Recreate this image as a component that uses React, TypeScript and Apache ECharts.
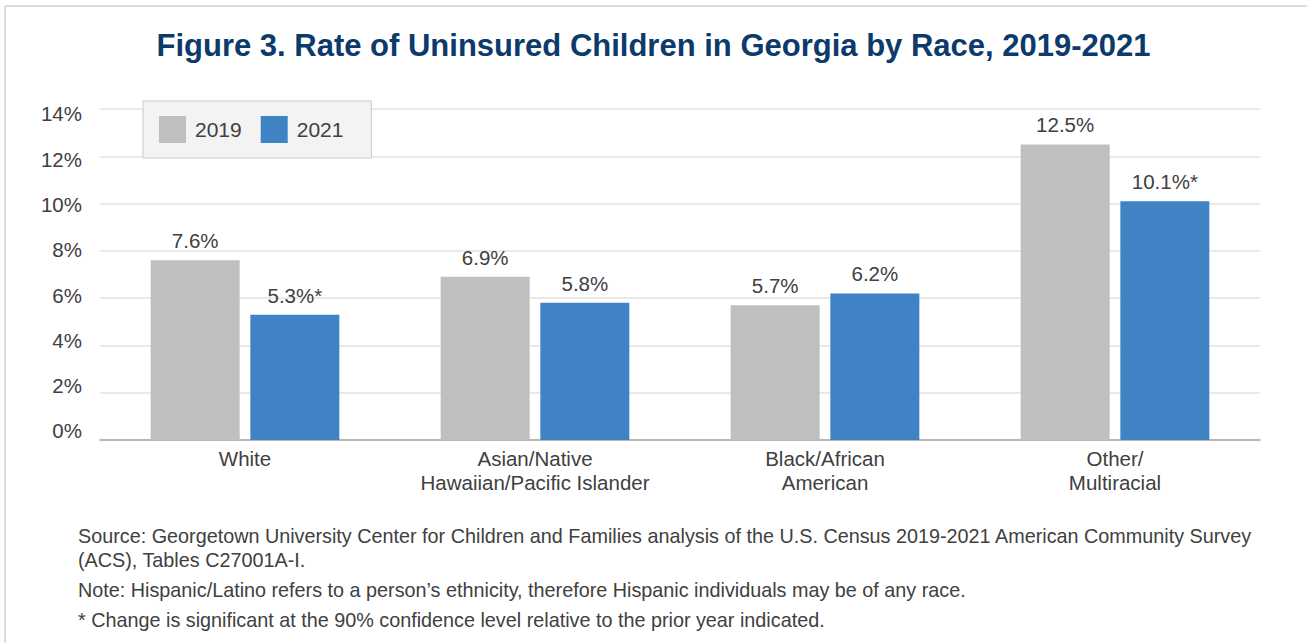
import React, { useEffect, useRef } from "react";
import * as echarts from "echarts";

const categories = [
  "White",
  "Asian/Native\nHawaiian/Pacific Islander",
  "Black/African\nAmerican",
  "Other/\nMultiracial",
];
const values2019 = [7.6, 6.9, 5.7, 12.5];
const values2021 = [5.3, 5.8, 6.2, 10.1];
// Changes significant at the 90% level get an asterisk
const significant2021 = [true, false, false, true];
const yTicks = [0, 2, 4, 6, 8, 10, 12, 14];

const titleText = "Figure 3. Rate of Uninsured Children in Georgia by Race, 2019-2021";
const notes = [
  "Source: Georgetown University Center for Children and Families analysis of the U.S. Census 2019-2021 American Community Survey",
  "(ACS), Tables C27001A-I.",
  "Note: Hispanic/Latino refers to a person\u2019s ethnicity, therefore Hispanic individuals may be of any race.",
  "* Change is significant at the 90% confidence level relative to the prior year indicated.",
];
const noteY = [537, 561, 591, 621];

const FONT = "'Liberation Sans', Arial, Helvetica, sans-serif";
const TEXT = "#404040";

export default function App() {
  const ref = useRef<HTMLDivElement>(null);

  useEffect(() => {
    if (!ref.current) return;
    const chart = echarts.init(ref.current, undefined, { renderer: "svg" });
    chart.setOption({
      animation: false,
      backgroundColor: "#ffffff",
      textStyle: { fontFamily: FONT },
      title: {
        text: titleText,
        left: "center",
        top: 25,
        textStyle: {
          fontFamily: FONT,
          fontSize: 31,
          fontWeight: "bold",
          color: "#0c3a6b",
        },
      },
      legend: {
        left: 143,
        top: 101,
        orient: "horizontal",
        icon: "rect",
        itemWidth: 27,
        itemHeight: 27,
        itemGap: 19,
        padding: [15, 28, 15, 16],
        backgroundColor: "#f3f3f3",
        borderColor: "#c9c9c9",
        borderWidth: 1,
        textStyle: { fontFamily: FONT, fontSize: 21, color: TEXT, padding: [0, 0, 0, 4] },
        data: ["2019", "2021"],
      },
      grid: { left: 100, right: 47, top: 109, bottom: 203, containLabel: false },
      xAxis: {
        type: "category",
        data: categories,
        axisTick: { show: false },
        axisLine: { lineStyle: { color: "#a6a6a6", width: 1.5 } },
        axisLabel: {
          fontFamily: FONT,
          fontSize: 20.5,
          color: TEXT,
          margin: 6,
          lineHeight: 24,
          interval: 0,
        },
      },
      yAxis: [
        {
          // value scale for the bars and gridlines
          type: "value",
          min: 0,
          max: yTicks[yTicks.length - 1],
          interval: 2,
          axisLine: { show: false },
          axisTick: { show: false },
          axisLabel: { show: false },
          splitLine: { lineStyle: { color: "#e2e2e2", width: 1.5 } },
        },
        {
          // tick labels, set slightly tighter than the gridlines
          type: "value",
          position: "left",
          min: -0.4,
          max: 14.22,
          axisLine: { show: false },
          axisTick: { show: false },
          splitLine: { show: false },
          axisLabel: {
            customValues: yTicks,
            fontFamily: FONT,
            fontSize: 20.5,
            color: TEXT,
            margin: 18,
            formatter: (v: number) => `${v}%`,
          },
        },
      ],
      series: [
        {
          name: "2019",
          type: "bar",
          yAxisIndex: 0,
          data: values2019,
          barWidth: 89,
          barGap: "12%",
          itemStyle: { color: "#bfbfbf" },
          label: {
            show: true,
            position: "top",
            distance: 9,
            fontFamily: FONT,
            fontSize: 20.5,
            color: TEXT,
            formatter: (p: any) => `${p.value.toFixed(1)}%`,
          },
        },
        {
          name: "2021",
          type: "bar",
          yAxisIndex: 0,
          data: values2021,
          barWidth: 89,
          barGap: "12%",
          itemStyle: { color: "#3f83c5" },
          label: {
            show: true,
            position: "top",
            distance: 9,
            fontFamily: FONT,
            fontSize: 20.5,
            color: TEXT,
            formatter: (p: any) =>
              `${p.value.toFixed(1)}%${significant2021[p.dataIndex] ? "*" : ""}`,
          },
        },
      ],
      graphic: [
        // frame edges along the top and left
        { type: "line", shape: { x1: 5, y1: 6, x2: 1307, y2: 6 }, style: { stroke: "#dcdcdc", lineWidth: 2 } },
        { type: "line", shape: { x1: 5, y1: 6, x2: 5, y2: 643 }, style: { stroke: "#dcdcdc", lineWidth: 2 } },
        ...notes.map((t, i) => ({
          type: "text",
          left: 78,
          top: noteY[i] - 11,
          style: { text: t, fontFamily: FONT, fontSize: 19.8, fill: TEXT },
        })),
      ],
    });
    return () => chart.dispose();
  }, []);

  return (
    <div
      ref={ref}
      style={{ position: "absolute", left: 0, top: 0, width: 1307, height: 643 }}
    />
  );
}
